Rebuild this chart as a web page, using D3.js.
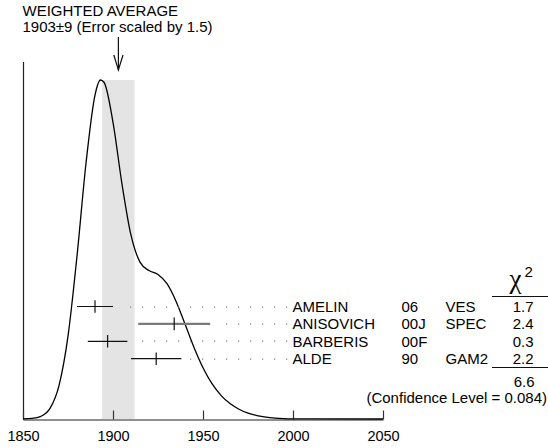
<!DOCTYPE html>
<html>
<head>
<meta charset="utf-8">
<script src="https://cdn.jsdelivr.net/npm/d3@7"></script>
<style>
  html, body { margin: 0; padding: 0; background: #fff; }
  svg text { font-family: "Liberation Sans", Arial, Helvetica, sans-serif; fill: #000; }
</style>
</head>
<body>
<svg id="chart" width="548" height="448"></svg>
<script>
// ---- data ----
const names   = ["AMELIN", "ANISOVICH", "BARBERIS", "ALDE"];
const refYears = ["06", "00J", "00F", "90"];
const techs   = ["VES", "SPEC", "", "GAM2"];
const values  = [1890, 1934, 1897, 1924];
const errors  = [10, 20, 11, 14];
const chi2    = ["1.7", "2.4", "0.3", "2.2"];
const chi2Total = "6.6";
const confLevel = "(Confidence Level = 0.084)";
const avgValue = 1903, avgError = 9;
const titleLines = ["WEIGHTED AVERAGE", "1903\u00B19 (Error scaled by 1.5)"];
const xTicks = [1850, 1900, 1950, 2000, 2050];
// ideogram curve (relative height)
const curveX = [1850,1855,1860,1865,1870,1875,1880,1885,1890,1893,1895,1900,1905,1910,1915,1920,1925,1930,1935,1940,1945,1950,1955,1960,1965,1970,1975,1980,1985,1990,1995,2000,2010,2050];
const curveY = [0.005,0.029,0.143,0.566,1.778,4.41,8.67,13.61,17.24,18.04,17.92,15.79,12.50,9.78,8.35,7.90,7.69,7.20,6.27,5.05,3.81,2.73,1.88,1.26,0.82,0.52,0.31,0.18,0.097,0.050,0.024,0.011,0.002,0];

// ---- layout ----
const svg = d3.select("#chart");
const x = d3.scaleLinear().domain([1850, 2050]).range([23, 383]);
const yMax = d3.max(curveY);
const y = d3.scaleLinear().domain([0, yMax]).range([419, 80]);
const row = d3.scalePoint().domain(names).range([306.5, 358.7]);
const fs = 15;

// shaded band of weighted average
svg.append("rect")
  .attr("x", x(avgValue - avgError)).attr("y", y(yMax))
  .attr("width", x(avgValue + avgError) - x(avgValue - avgError))
  .attr("height", y(0) - y(yMax))
  .attr("fill", "#e4e4e4");

// y axis line
svg.append("line").attr("x1", 23.5).attr("x2", 23.5).attr("y1", 62).attr("y2", 419.5)
  .attr("stroke", "#222").attr("stroke-width", 1.2);

// x axis
const xAxis = d3.axisBottom(x).tickValues(xTicks).tickFormat(d3.format("d"))
  .tickSizeInner(-9).tickSizeOuter(0).tickPadding(11);
const gx = svg.append("g").attr("transform", "translate(0,419.5)").call(xAxis);
gx.select(".domain").attr("stroke", "#222").attr("stroke-width", 1.2);
gx.selectAll(".tick line").attr("stroke", "#333").attr("stroke-width", 1.2);
gx.selectAll(".tick text").attr("font-size", 14.5)
  .style("font-family", "'Liberation Sans', Arial, Helvetica, sans-serif").attr("fill", "#000");

// ideogram curve
const pts = curveX.map((d, i) => [d, curveY[i]]);
svg.append("path").datum(pts)
  .attr("d", d3.line().x(d => x(d[0])).y(d => y(d[1])).curve(d3.curveMonotoneX))
  .attr("fill", "none").attr("stroke", "#000").attr("stroke-width", 1.3);

// dotted leaders on a 12px grid
const labelX = 292.5;
names.forEach((n, i) => {
  const right = x(values[i] + errors[i]);
  const yy = Math.round(row(n));
  for (let px = 130; px <= 287; px += 12) {
    if (px > right + 5) {
      svg.append("rect").attr("x", px).attr("y", yy - 0.5).attr("width", 1.2).attr("height", 1.2)
        .attr("fill", "#777");
    }
  }
});

// error bars
names.forEach((n, i) => {
  const yy = row(n);
  const gray = n === "ANISOVICH";
  svg.append("line")
    .attr("x1", x(values[i] - errors[i])).attr("x2", x(values[i] + errors[i]))
    .attr("y1", yy).attr("y2", yy)
    .attr("stroke", gray ? "#7a7a7a" : "#111").attr("stroke-width", gray ? 2.4 : 1.2);
  svg.append("line")
    .attr("x1", x(values[i])).attr("x2", x(values[i]))
    .attr("y1", yy - 6.3).attr("y2", yy + 6.3)
    .attr("stroke", "#111").attr("stroke-width", 1.2);
});

// labels
const txt = (s, xx, yy, anchor, size) => svg.append("text").text(s)
  .attr("x", xx).attr("y", yy).attr("font-size", size || fs).attr("text-anchor", anchor || "start");
names.forEach((n, i) => {
  const b = row(n) + 5.3;
  txt(n, labelX, b);
  txt(refYears[i], 401.5, b);
  txt(techs[i], 445.5, b);
  txt(chi2[i], 533.5, b, "end");
});

// chi2 header
txt("\u03C7", 509.5, 287.5, "start", 27).style("font-family", "'Liberation Serif', 'Times New Roman', serif");
txt("2", 524.5, 276.5, "start", 15);
svg.append("line").attr("x1", 492).attr("x2", 548).attr("y1", 296.5).attr("y2", 296.5)
  .attr("stroke", "#111").attr("stroke-width", 1.1);
svg.append("line").attr("x1", 492).attr("x2", 548).attr("y1", 367.5).attr("y2", 367.5)
  .attr("stroke", "#111").attr("stroke-width", 1.1);
txt(chi2Total, 534.5, 386.5, "end");
txt(confLevel, 547, 403, "end");

// title
txt(titleLines[0], 22.5, 15.7);
txt(titleLines[1], 22.5, 32.3);

// arrow
const ax = x(avgValue);
svg.append("line").attr("x1", ax).attr("x2", ax).attr("y1", 37).attr("y2", 70)
  .attr("stroke", "#111").attr("stroke-width", 1.2);
svg.append("path")
  .attr("d", `M${ax - 4.6},55 L${ax},70 L${ax + 4.6},55`)
  .attr("fill", "none").attr("stroke", "#111").attr("stroke-width", 1.2);
</script>
</body>
</html>
